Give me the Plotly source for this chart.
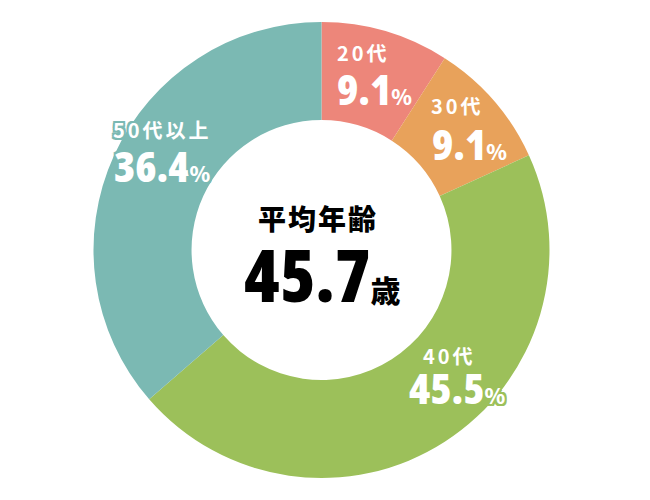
import plotly.graph_objects as go

# age groups, clockwise from 12 o'clock
labels = ["20代", "30代", "40代", "50代以上"]
values = [9.1, 9.1, 45.5, 36.4]
colors = ["#ed867a", "#e8a25b", "#9cc05a", "#7bb9b3"]

center_title = "平均年齢"
avg_age = 45.7

# label placement in page pixels: name left/y, number left/y
label_pos = [
    (335, 53, 335, 88),
    (429, 106, 430, 143),
    (421, 355, 407, 387),
    (111, 129, 112, 165),
]

W, H = 650, 500
OFF = 8  # body margin of the html page
num_font = "Open Sans"
jp_font = "Noto Sans CJK JP"


def px(x, y):
    return (x - OFF) / W, 1 - (y - OFF) / H


def outline(c, w=2):
    pts = [(w, 0), (-w, 0), (0, w), (0, -w), (w, w), (-w, -w), (w, -w), (-w, w)]
    return ", ".join(f"{x}px {y}px 0 {c}" for x, y in pts)


def number(val, unit, unit_size):
    return (f"<span style=\"font-stretch:75%\">{val:.1f}</span>"
            f"<span style=\"font-family:{jp_font};font-size:{unit_size}px\">{unit}</span>")


fig = go.Figure()

# donut centred at (321.5, 250) on the page, outer radius 228
cx, cy = px(321.5, 250)
rx, ry = 228 / W, 228 / H
fig.add_trace(go.Pie(
    labels=labels,
    values=values,
    marker=dict(colors=colors, line=dict(width=0)),
    hole=0.57,
    sort=False,
    direction="clockwise",
    rotation=0,
    textinfo="none",
    hoverinfo="label+percent",
    showlegend=False,
    domain=dict(x=[cx - rx, cx + rx], y=[cy - ry, cy + ry]),
))

annotations = []
for lab, val, col, (nx, ny, vx, vy) in zip(labels, values, colors, label_pos):
    x, y = px(nx, ny)
    annotations.append(dict(
        x=x, y=y, xref="paper", yref="paper",
        xanchor="left", yanchor="middle", showarrow=False,
        text=f"<span style=\"letter-spacing:3px\">{lab}</span>",
        font=dict(family=jp_font, size=20, color="white", weight=700, shadow=outline(col)),
    ))
    x, y = px(vx, vy)
    annotations.append(dict(
        x=x, y=y, xref="paper", yref="paper",
        xanchor="left", yanchor="middle", showarrow=False,
        text=number(val, "%", 21),
        font=dict(family=num_font, size=43, color="white", weight=800, shadow=outline(col)),
    ))

x, y = px(317.5, 217.5)
annotations.append(dict(
    x=x, y=y, xref="paper", yref="paper",
    xanchor="center", yanchor="middle", showarrow=False,
    text=f"<span style=\"letter-spacing:2px\">{center_title}</span>",
    font=dict(family=jp_font, size=28, color="black", weight=900),
))
x, y = px(322, 274)
annotations.append(dict(
    x=x, y=y, xref="paper", yref="paper",
    xanchor="center", yanchor="middle", showarrow=False,
    text=number(avg_age, "歳", 30),
    font=dict(family=num_font, size=72, color="black", weight=800),
))

fig.update_layout(
    width=W, height=H,
    margin=dict(l=0, r=0, t=0, b=0),
    paper_bgcolor="white",
    plot_bgcolor="white",
    annotations=annotations,
)

fig.write_html("out.html")
